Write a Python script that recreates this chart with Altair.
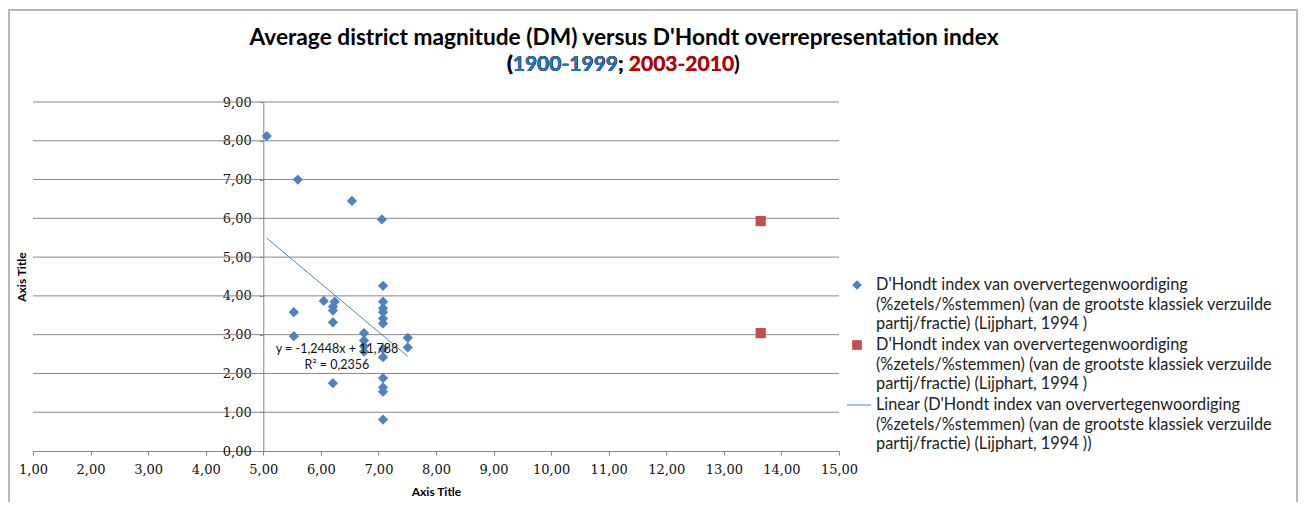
import altair as alt
import pandas as pd

# 1900-1999 (blue diamonds): average district magnitude vs D'Hondt index
DM_1900 = [5.06, 5.60, 6.54, 7.06, 7.08, 5.53, 6.05, 6.24, 6.21, 6.21, 6.21,
           5.53, 7.08, 7.08, 7.08, 7.08, 7.08, 7.08, 7.08, 6.75, 6.75, 6.75,
           6.75, 7.51, 7.51, 6.21, 7.08, 7.08, 7.08, 7.08]
DH_1900 = [8.12, 7.00, 6.45, 5.97, 4.26, 3.58, 3.87, 3.85, 3.72, 3.62, 3.32,
           2.96, 3.85, 3.68, 3.58, 3.42, 3.29, 2.63, 2.42, 3.04, 2.85, 2.70,
           2.56, 2.92, 2.67, 1.75, 1.88, 1.64, 1.53, 0.81]

# 2003-2010 (red squares)
DM_2003 = [13.64, 13.64]
DH_2003 = [5.93, 3.04]

# Excel linear trendline on the 1900-1999 series
SLOPE = -1.2448
INTERCEPT = 11.788
R2 = 0.2356
EQ_LABEL = "y = -1,2448x + 11,788\nR² = 0,2356"
EQ_POS = (6.28, 2.64)

X_TICKS = list(range(1, 16))
Y_TICKS = list(range(0, 10))

SERIES = ["old", "new", "trend"]
SERIES_COLORS = ["#4f81bd", "#c0504d", "#4a86c5"]
SERIES_SHAPES = ["diamond", "square", "stroke"]
LEGEND_TEXT = "D'Hondt index van oververtegenwoordiging\n(%zetels/%stemmen) (van de grootste klassiek verzuilde\npartij/fractie) (Lijphart, 1994 )"
LEGEND_LABELS = [LEGEND_TEXT, LEGEND_TEXT,
                 "Linear (" + LEGEND_TEXT + ")"]

TITLE_1 = "Average district magnitude (DM) versus D'Hondt overrepresentation index"
TITLE_2 = "(1900-1999; 2003-2010)"

W, H = 806, 349
FONT = "Lato"
AXIS_FONT = "DejaVu Serif"

points = pd.DataFrame({
    "dm": DM_1900 + DM_2003,
    "dh": DH_1900 + DH_2003,
    "series": ["old"] * len(DM_1900) + ["new"] * len(DM_2003),
})
xs = [min(DM_1900), max(DM_1900)]
trend = pd.DataFrame({"dm": xs, "dh": [SLOPE * x + INTERCEPT for x in xs],
                      "series": "trend"})
gridlines = pd.DataFrame({"dh": Y_TICKS[1:]})
one = pd.DataFrame({"k": [0]})

color = alt.Color("series:N", scale=alt.Scale(domain=SERIES, range=SERIES_COLORS),
                  legend=None)
shape = alt.Shape("series:N", scale=alt.Scale(domain=SERIES, range=SERIES_SHAPES),
                  legend=None)
fmt = "replace(format(datum.value, '.2f'), '.', ',')"

x_enc = alt.X("dm:Q", scale=alt.Scale(domain=[1, 15], nice=False),
              axis=alt.Axis(values=X_TICKS, labelExpr=fmt, grid=False,
                            labelFlush=False, labelOverlap=False,
                            title="Axis Title", titleFont=FONT, titleFontSize=12,
                            titleFontWeight="bold", titlePadding=10,
                            labelFont=AXIS_FONT, labelFontSize=13, labelColor="#111",
                            labelPadding=8, tickSize=4, tickColor="#868686",
                            domainColor="#868686"))

# value axis crosses at DM = 5
cross = W * (5 - 1) / 14
y_enc = alt.Y("dh:Q", scale=alt.Scale(domain=[0, 9], nice=False),
              axis=alt.Axis(values=Y_TICKS, labelExpr=fmt, grid=False,
                            labelOverlap=False, labelFlush=False,
                            orient="left", offset=-cross, labelFont=AXIS_FONT,
                            labelFontSize=13, labelColor="#111", tickSize=4,
                            tickColor="#868686", labelPadding=8,
                            domainColor="#868686",
                            title="Axis Title", titleFont=FONT, titleFontSize=12,
                            titleFontWeight="bold", titleX=-(cross + 11),
                            titleY=H / 2, titleBaseline="middle"))

# horizontal gridlines at every y tick
grid = alt.Chart(gridlines).mark_rule(color="#868686", strokeWidth=1).encode(
    y=y_enc,
)

pts = alt.Chart(points).mark_point(filled=True, size=105, opacity=1).encode(
    x=x_enc, y=y_enc, color=color, shape=shape,
)

line = alt.Chart(trend).mark_line(strokeWidth=1).encode(
    x=x_enc, y=y_enc, color=color,
)

eq = alt.Chart(pd.DataFrame({"dm": [EQ_POS[0]], "dh": [EQ_POS[1]],
                             "t": [EQ_LABEL]})).mark_text(
    font=FONT, fontSize=12.5, color="#111", lineBreak="\n", align="center",
    baseline="middle", lineHeight=16,
).encode(x=x_enc, y=y_enc, text="t:N")

# legend to the right of the plot, one entry every 60 px
LEG_TOP, LEG_STEP = 183, 60
legend = []
for i, (key, label) in enumerate(zip(SERIES, LEGEND_LABELS)):
    ly = LEG_TOP + i * LEG_STEP
    entry = pd.DataFrame({"series": [key], "label": [label]})
    legend.append(alt.Chart(entry).mark_text(
        font=FONT, fontSize=16.3, color="#222", align="left", baseline="middle",
        lineBreak="\n", lineHeight=19.5,
    ).encode(x=alt.value(843), y=alt.value(ly), text="label:N"))
    if key == "trend":
        legend.append(alt.Chart(entry).mark_rule(strokeWidth=1).encode(
            x=alt.value(814), x2=alt.value(838), y=alt.value(ly), color=color))
    else:
        legend.append(alt.Chart(entry).mark_point(
            filled=True, size=95, opacity=1,
        ).encode(x=alt.value(824), y=alt.value(ly), color=color, shape=shape))

# two-line title, second line coloured by period (overlaid prefixes)
t1 = alt.Chart(one).mark_text(
    font=FONT, fontSize=22.7, fontWeight="bold", color="#000", align="center",
    baseline="middle",
).encode(x=alt.value(591), y=alt.value(-64), text=alt.value(TITLE_1))
parts = [(TITLE_2, "#000"), (TITLE_2[:-1], "#c00000"),
         (TITLE_2[:12], "#000"), (TITLE_2[:10], "#1f77bf"), (TITLE_2[:1], "#000")]
t2 = [alt.Chart(one).mark_text(
    font=FONT, fontSize=21, fontWeight="bold", color=c, align="left",
    baseline="middle",
).encode(x=alt.value(474), y=alt.value(-37), text=alt.value(s)) for s, c in parts]

frame = alt.Chart(one).mark_rect(
    fillOpacity=0, stroke="#b8b8b8", strokeWidth=2,
).encode(x=alt.value(-24), x2=alt.value(W + 458), y=alt.value(-92),
         y2=alt.value(H + 80))

chart = alt.layer(frame, grid, line, pts, eq, *legend, t1, *t2).properties(
    width=W, height=H,
    background="white",
    autosize=alt.AutoSizeParams(type="none"),
    padding={"left": 25, "top": 94, "right": 459, "bottom": 51},
).configure_view(stroke=None)

chart.save("out.html", embed_options={"renderer": "svg", "actions": False})
